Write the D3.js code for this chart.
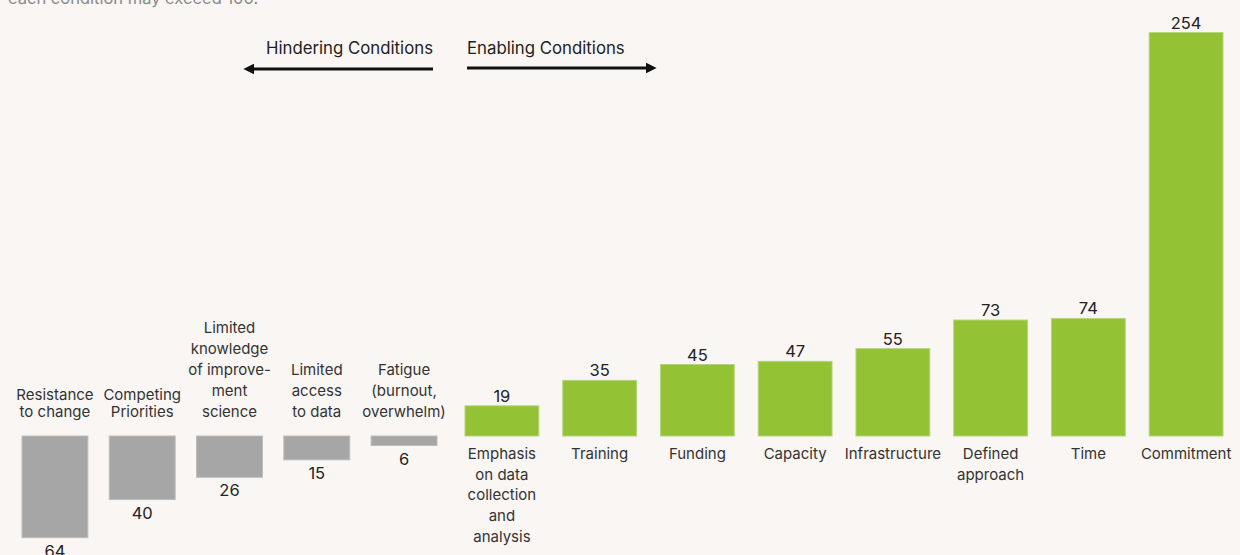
<!DOCTYPE html>
<meta charset="utf-8">
<style>
  body { margin: 0; background: #f9f6f3; }
  svg { display: block; font-family: Inter, "Noto Sans", sans-serif; }
  .cat { font-size: 15px; fill: #333; }
  .val { font-size: 16.5px; fill: #222; }
  .head { font-size: 16.8px; fill: #222; }
</style>
<body>
<script src="https://cdn.jsdelivr.net/npm/d3@7"></script>
<script>
// hindering conditions (drawn below the baseline)
var hinderLabels = [
  ["Resistance", "to change"],
  ["Competing", "Priorities"],
  ["Limited", "knowledge", "of improve-", "ment", "science"],
  ["Limited", "access", "to data"],
  ["Fatigue", "(burnout,", "overwhelm)"]
];
var hinderValues = [64, 40, 26, 15, 6];

// enabling conditions (drawn above the baseline)
var enableLabels = [
  ["Emphasis", "on data", "collection", "and", "analysis"],
  ["Training"],
  ["Funding"],
  ["Capacity"],
  ["Infrastructure"],
  ["Defined", "approach"],
  ["Time"],
  ["Commitment"]
];
var enableValues = [19, 35, 45, 47, 55, 73, 74, 254];

var width = 1240, height = 555, base = 436;

var svg = d3.select("body").append("svg")
  .attr("width", width)
  .attr("height", height);

// cut-off note from the top of the original graphic
svg.append("text")
  .attr("x", 8).attr("y", 4)
  .style("font-size", "16.5px").style("fill", "#8a8a8a")
  .text("each condition may exceed 100.");

var y = d3.scaleLinear().domain([0, 254]).range([0, 403.5]);

var xh = d3.scaleBand().domain(d3.range(hinderValues.length))
  .range([22, 437]).paddingInner(0.245).paddingOuter(0);
var xe = d3.scaleBand().domain(d3.range(enableValues.length))
  .range([465, 1223]).paddingInner(0.245).paddingOuter(0);

// headings + arrows
svg.append("defs").selectAll("marker")
  .data(["arrow"]).enter().append("marker")
  .attr("id", "arrow")
  .attr("viewBox", "0 0 10 10")
  .attr("refX", 2).attr("refY", 5)
  .attr("markerWidth", 3.6).attr("markerHeight", 3.6)
  .attr("orient", "auto-start-reverse")
  .append("path").attr("d", "M0,0L10,5L0,10Z").attr("fill", "#111");

svg.append("text").attr("class", "head")
  .attr("x", 433).attr("y", 53.5).attr("text-anchor", "end")
  .text("Hindering Conditions");
svg.append("text").attr("class", "head")
  .attr("x", 467).attr("y", 53.5)
  .text("Enabling Conditions");

svg.append("line")
  .attr("x1", 433).attr("x2", 252).attr("y1", 69).attr("y2", 69)
  .attr("stroke", "#111").attr("stroke-width", 3)
  .attr("marker-end", "url(#arrow)");
svg.append("line")
  .attr("x1", 467).attr("x2", 648).attr("y1", 68).attr("y2", 68)
  .attr("stroke", "#111").attr("stroke-width", 3)
  .attr("marker-end", "url(#arrow)");

// hindering bars
var gh = svg.append("g");
gh.selectAll("rect").data(hinderValues).enter().append("rect")
  .attr("x", function(d, i){ return xh(i); })
  .attr("y", base)
  .attr("width", xh.bandwidth())
  .attr("height", function(d){ return y(d); })
  .attr("fill", "#a6a6a6")
  .attr("stroke", "#bdbdbd").attr("stroke-width", 1);

gh.selectAll(".val").data(hinderValues).enter().append("text")
  .attr("class", "val")
  .attr("text-anchor", "middle")
  .attr("x", function(d, i){ return xh(i) + xh.bandwidth() / 2; })
  .attr("y", function(d){ return base + y(d) + 19; })
  .text(function(d){ return d; });

gh.selectAll(".cat").data(hinderLabels).enter().append("text")
  .attr("class", "cat")
  .attr("text-anchor", "middle")
  .each(function(lines, i){
    var lh = i < 2 ? 17 : 20.8;
    var cx = xh(i) + xh.bandwidth() / 2;
    var t = d3.select(this);
    lines.forEach(function(s, j){
      t.append("tspan")
        .attr("x", cx)
        .attr("y", 416.5 - (lines.length - 1 - j) * lh)
        .text(s);
    });
  });

// enabling bars
var ge = svg.append("g");
ge.selectAll("rect").data(enableValues).enter().append("rect")
  .attr("x", function(d, i){ return xe(i); })
  .attr("y", function(d){ return base - y(d); })
  .attr("width", xe.bandwidth())
  .attr("height", function(d){ return y(d); })
  .attr("fill", "#93c234")
  .attr("stroke", "#b4d67a").attr("stroke-width", 1);

ge.selectAll(".val").data(enableValues).enter().append("text")
  .attr("class", "val")
  .attr("text-anchor", "middle")
  .attr("x", function(d, i){ return xe(i) + xe.bandwidth() / 2; })
  .attr("y", function(d){ return base - y(d) - 4; })
  .text(function(d){ return d; });

ge.selectAll(".cat").data(enableLabels).enter().append("text")
  .attr("class", "cat")
  .attr("text-anchor", "middle")
  .each(function(lines, i){
    var cx = xe(i) + xe.bandwidth() / 2;
    var t = d3.select(this);
    lines.forEach(function(s, j){
      t.append("tspan")
        .attr("x", cx)
        .attr("y", 459 + j * 20.7)
        .text(s);
    });
  });
</script>
</body>
